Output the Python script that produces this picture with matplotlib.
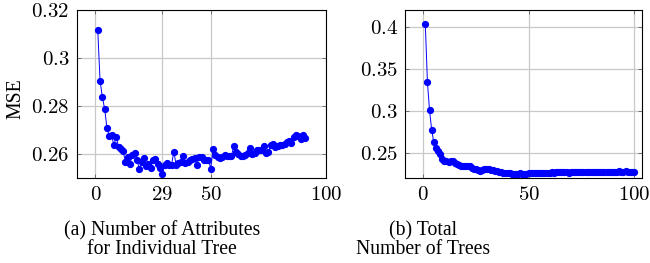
"""
MSE vs number of attributes per tree (a) and total number of trees (b).
Output: out.png (650x263)
"""
import matplotlib
matplotlib.use("Agg")
import matplotlib.pyplot as plt
import matplotlib.ticker as mtick
import numpy as np

plt.rcParams["font.family"] = ["Liberation Serif", "DejaVu Serif"]
plt.rcParams["mathtext.fontset"] = "cm"

# (a) number of attributes for individual tree
attr_x = np.arange(1, 92)
attr_mse = [
    0.3116, 0.2906, 0.2838, 0.2789, 0.2709, 0.2677, 0.2679, 0.2639, 0.2674, 0.2632,
    0.2621, 0.2615, 0.2568, 0.2588, 0.2562, 0.2597, 0.2604, 0.2578, 0.2540, 0.2570,
    0.2585, 0.2553, 0.2562, 0.2544, 0.2578, 0.2580, 0.2560, 0.2542, 0.2517, 0.2556,
    0.2563, 0.2558, 0.2557, 0.2611, 0.2557, 0.2563, 0.2568, 0.2593, 0.2566, 0.2570,
    0.2576, 0.2579, 0.2586, 0.2554, 0.2588, 0.2590, 0.2576, 0.2575, 0.2578, 0.2541,
    0.2621, 0.2597, 0.2590, 0.2586, 0.2590, 0.2597, 0.2593, 0.2593, 0.2593, 0.2636,
    0.2611, 0.2600, 0.2595, 0.2592, 0.2598, 0.2604, 0.2625, 0.2602, 0.2605, 0.2618,
    0.2620, 0.2618, 0.2636, 0.2605, 0.2610, 0.2640, 0.2643, 0.2630, 0.2635, 0.2640,
    0.2640, 0.2645, 0.2652, 0.2657, 0.2646, 0.2672, 0.2680, 0.2678, 0.2662, 0.2680,
    0.2667,
]

# (b) total number of trees
trees_x = np.arange(1, 101)
trees_mse = [
    0.4036, 0.3346, 0.3012, 0.2782, 0.2631, 0.2567, 0.2532, 0.2492, 0.2430, 0.2408,
    0.2405, 0.2400, 0.2410, 0.2405, 0.2385, 0.2372, 0.2362, 0.2352, 0.2345, 0.2345,
    0.2348, 0.2345, 0.2330, 0.2318, 0.2308, 0.2298, 0.2292, 0.2300, 0.2310, 0.2312,
    0.2310, 0.2300, 0.2298, 0.2285, 0.2285, 0.2280, 0.2275, 0.2270, 0.2266, 0.2262,
    0.2260, 0.2258, 0.2259, 0.2257, 0.2258, 0.2260, 0.2258, 0.2257, 0.2259, 0.2262,
    0.2263, 0.2264, 0.2263, 0.2265, 0.2266, 0.2265, 0.2266, 0.2268, 0.2270, 0.2271,
    0.2272, 0.2271, 0.2273, 0.2272, 0.2272, 0.2274, 0.2273, 0.2272, 0.2270, 0.2272,
    0.2273, 0.2274, 0.2273, 0.2274, 0.2275, 0.2274, 0.2275, 0.2276, 0.2275, 0.2277,
    0.2278, 0.2277, 0.2279, 0.2280, 0.2281, 0.2282, 0.2282, 0.2281, 0.2279, 0.2280,
    0.2281, 0.2282, 0.2283, 0.2282, 0.2281, 0.2283, 0.2282, 0.2281, 0.2280, 0.2281,
]

attr_xticks = [0, 29, 50, 100]
attr_yticks = [0.26, 0.28, 0.30, 0.32]
trees_xticks = [0, 50, 100]
trees_yticks = [0.25, 0.30, 0.35, 0.40]

BLUE = "#0000ff"
GRID = "#c8c8c8"


def _cm(v, _pos=None):
    s = f"{v:.2f}".rstrip("0").rstrip(".")
    return f"${s}$"


def _style(ax, xticks, yticks, xlim, ylim):
    ax.set_xlim(*xlim)
    ax.set_ylim(*ylim)
    ax.set_xticks(xticks)
    ax.set_yticks(yticks)
    ax.xaxis.set_major_formatter(mtick.FuncFormatter(lambda v, p: f"${int(round(v))}$"))
    ax.yaxis.set_major_formatter(mtick.FuncFormatter(lambda v, p: _cm(float(v))))
    ax.grid(True, color=GRID, linewidth=0.9)
    ax.set_axisbelow(True)
    ax.tick_params(direction="in", length=3, width=0.6, color="#606060",
                   top=True, right=True, labelsize=15, pad=5.5)
    for sp in ax.spines.values():
        sp.set_linewidth(0.8)


fig = plt.figure(figsize=(6.5, 2.63), dpi=100)

ax1 = fig.add_axes([77 / 650, 1 - 178 / 263, 249 / 650, 168 / 263])
ax1.plot(attr_x, attr_mse, color=BLUE, linewidth=0.7, marker="o", markersize=4.2)
_style(ax1, attr_xticks, attr_yticks, (-8, 99.5), (0.2502, 0.32))

ax2 = fig.add_axes([405.3 / 650, 1 - 178.3 / 263, 236.7 / 650, 168.3 / 263])
ax2.plot(trees_x, trees_mse, color=BLUE, linewidth=0.7, marker="o", markersize=4.2)
_style(ax2, trees_xticks, trees_yticks, (-8.5, 103.8), (0.2202, 0.4206))

fig.text(16 / 650, 1 - 99 / 263, "MSE", rotation=90, ha="center", va="center", fontsize=14.2)

fig.text(162 / 650, 1 - 231 / 263, "(a) Number of Attributes", ha="center", va="center", fontsize=14.2)
fig.text(162 / 650, 1 - 250 / 263, "for Individual Tree", ha="center", va="center", fontsize=14.2)
fig.text(423 / 650, 1 - 231 / 263, "(b) Total", ha="center", va="center", fontsize=14.2)
fig.text(423 / 650, 1 - 250 / 263, "Number of Trees", ha="center", va="center", fontsize=14.2)

fig.savefig("out.png", dpi=100)
